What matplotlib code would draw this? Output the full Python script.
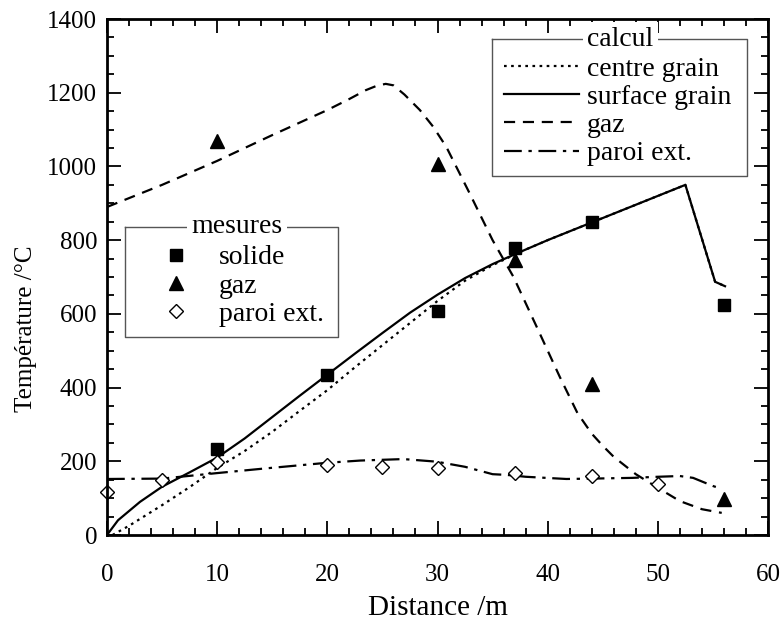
import matplotlib
matplotlib.use("Agg")
import matplotlib.pyplot as plt
from matplotlib.ticker import MultipleLocator

plt.rcParams['font.family'] = ['Liberation Serif', 'DejaVu Serif']

# --- calculated profiles ---
surf_x = [0, 1, 3, 5, 7.5, 10, 12.5, 15, 17.5, 20, 22.5, 25, 27.5, 30, 32.5, 35,
          37.5, 40, 42.5, 45, 47.5, 50, 52.5, 55.2, 56.1]
surf_y = [0, 40, 90, 131, 170, 210, 262, 320, 378, 435, 492, 548, 603, 652, 697, 735,
          768, 800, 830, 860, 890, 920, 950, 687, 675]

centre_x = [0.5, 2, 5, 7.5, 10, 12.5, 15, 17.5, 20, 22.5, 25, 27.5, 30, 32.5, 35,
            37.5, 40, 42.5, 45, 47.5, 50, 52.5, 55.2, 56.1]
centre_y = [0, 25, 81, 130, 182, 228, 280, 337, 393, 455, 515, 575, 635, 690, 732,
            768, 800, 830, 860, 890, 920, 950, 687, 675]

gaz_x = [0, 5, 10, 15, 20, 22, 23.5, 24.5, 25.3, 26, 27, 28.4, 29.6, 30.8, 32.9, 35,
         36.9, 39, 41.1, 42.7, 44, 45, 46, 48, 50, 52, 54, 55.8]
gaz_y = [890, 950, 1015, 1085, 1153, 1183, 1207, 1219, 1224, 1220, 1195, 1153, 1108,
         1053, 928, 800, 700, 565, 429, 331, 275, 242, 212, 165, 128, 92, 70, 60]

paroi_x = [0, 5, 10, 14.5, 20, 23, 26.9, 29.9, 32.5, 35, 36.3, 38, 41.7, 44, 47.7,
           50, 52, 53.2, 55, 55.5]
paroi_y = [152, 153, 168, 181, 196, 202, 206, 199, 185, 165, 163, 158, 152, 153, 155,
           158, 160, 155, 133, 128]

# --- measurements ---
mes_solide_x = [10, 20, 30, 37, 44, 56]
mes_solide_y = [233, 435, 608, 779, 850, 624]
mes_gaz_x = [10, 30, 37, 44, 56]
mes_gaz_y = [1070, 1006, 746, 410, 98]
mes_paroi_x = [0, 5, 10, 20, 25, 30, 37, 44, 50]
mes_paroi_y = [117, 149, 199, 190, 185, 183, 167, 160, 138]

FS_TICK = 18
FS_LEG = 20
fig = plt.figure(figsize=(7.83, 6.27), dpi=100)
ax = fig.add_axes([107 / 783, 1 - 535 / 627, 661 / 783, 516 / 627])

lw = 1.6
dotted = (0, (1.2, 2.0))
dashed = (0, (5, 3.5))
dashdot = (0, (8, 3, 1.5, 3))

l_centre, = ax.plot(centre_x, centre_y, color='black', lw=lw, linestyle=dotted)
l_surf, = ax.plot(surf_x, surf_y, color='black', lw=lw, linestyle='-')
l_gaz, = ax.plot(gaz_x, gaz_y, color='black', lw=lw, linestyle=dashed)
l_paroi, = ax.plot(paroi_x, paroi_y, color='black', lw=lw, linestyle=dashdot)

m_sol, = ax.plot(mes_solide_x, mes_solide_y, 's', color='black', ms=9, linestyle='none')
m_gaz, = ax.plot(mes_gaz_x, mes_gaz_y, '^', color='black', ms=9.5, linestyle='none')
m_par, = ax.plot(mes_paroi_x, mes_paroi_y, 'D', mfc='white', mec='black', mew=1.0,
                 ms=7, linestyle='none', clip_on=False)

ax.set_xlim(0, 60)
ax.set_ylim(0, 1400)
ax.xaxis.set_major_locator(MultipleLocator(10))
ax.xaxis.set_minor_locator(MultipleLocator(2))
ax.yaxis.set_major_locator(MultipleLocator(200))
ax.yaxis.set_minor_locator(MultipleLocator(50))
ax.tick_params(which='both', direction='in', top=True, right=True, width=1.3,
               labelsize=FS_TICK)
ax.tick_params(axis='x', which='both', pad=21)
ax.tick_params(axis='y', which='both', pad=7)
ax.tick_params(which='major', length=10)
ax.tick_params(which='minor', length=5)
for s in ax.spines.values():
    s.set_linewidth(2)

ax.set_xlabel('Distance /m', fontsize=21)
ax.xaxis.set_label_coords(0.5, -0.117)
ax.set_ylabel('Température /°C', fontsize=FS_TICK)
ax.yaxis.set_label_coords(-0.106, 0.40)


def boxed_title(x0, x1, y0, y1, title, tx):
    kw = dict(transform=ax.transAxes, color='#555555', lw=1.0, clip_on=False)
    ax.plot([x0, x1, x1, x0, x0], [y1, y1, y0, y0, y1], **kw)
    ax.text(tx, y1, title, transform=ax.transAxes, ha='center', va='center',
            fontsize=FS_LEG, bbox=dict(facecolor='white', edgecolor='none', pad=3))


# calculation legend
leg1 = ax.legend([l_centre, l_surf, l_gaz, l_paroi],
                 ['centre grain', 'surface grain', 'gaz', 'paroi ext.'],
                 loc='upper left', bbox_to_anchor=(0.6, 0.928), frameon=False,
                 fontsize=FS_LEG, handlelength=2.7, handletextpad=0.3,
                 labelspacing=0.10, borderpad=0, borderaxespad=0)
ax.add_artist(leg1)
boxed_title(0.582, 0.968, 0.696, 0.961, 'calcul', 0.777)

# measurement legend
leg2 = ax.legend([m_sol, m_gaz, m_par], ['solide', 'gaz', 'paroi ext.'],
                 loc='upper left', bbox_to_anchor=(0.085, 0.562), frameon=False,
                 fontsize=FS_LEG, handlelength=0.9, handletextpad=1.1,
                 labelspacing=0.10, borderpad=0, borderaxespad=0, numpoints=1)
boxed_title(0.027, 0.349, 0.384, 0.597, 'mesures', 0.197)

fig.savefig('out.png', dpi=100)
